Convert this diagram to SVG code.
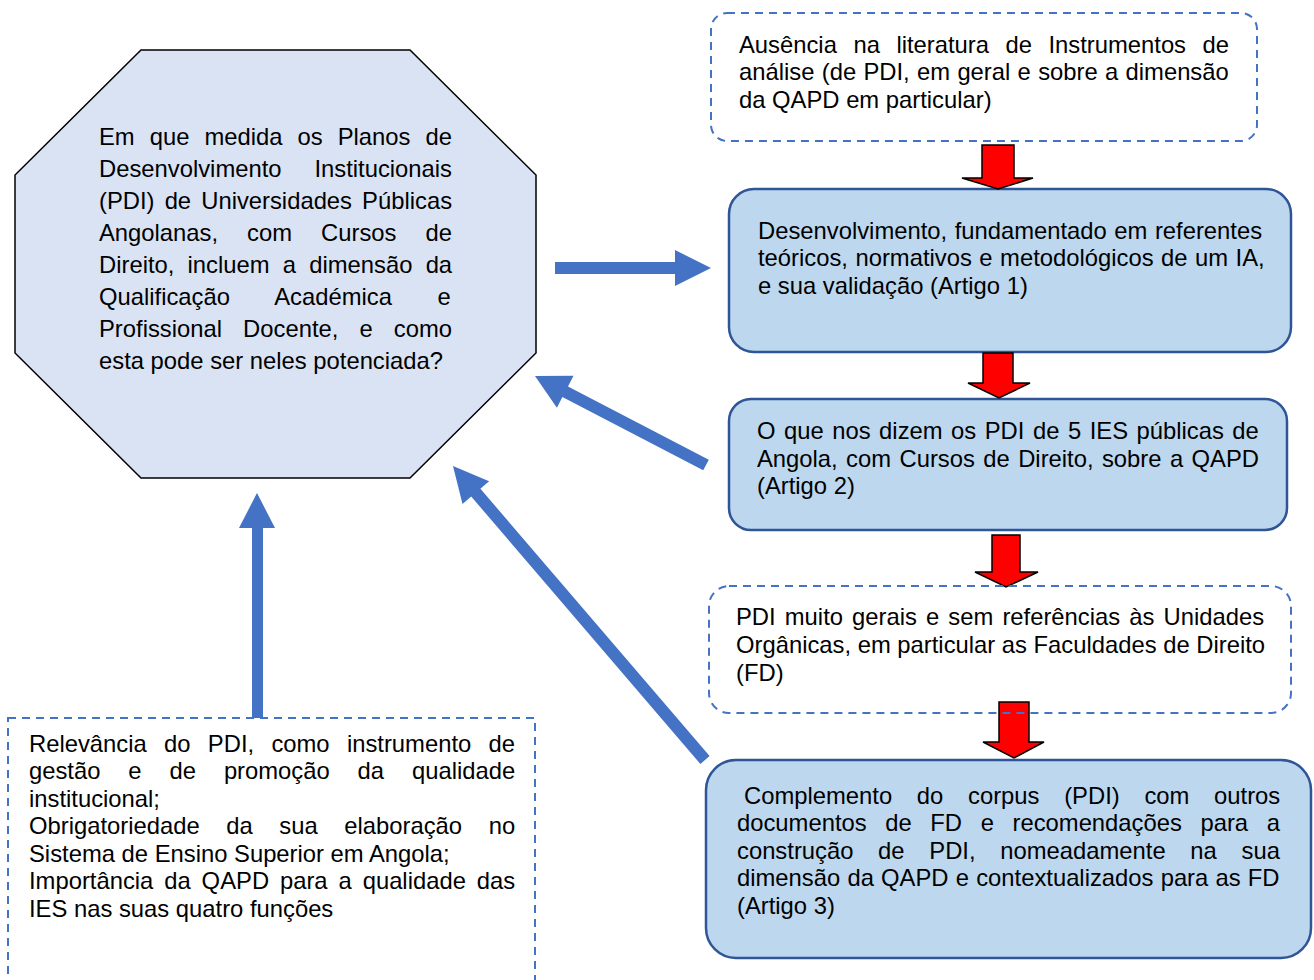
<svg xmlns="http://www.w3.org/2000/svg" width="1314" height="980" viewBox="0 0 1314 980">
<style>
text{font-family:"Liberation Sans",Arial,sans-serif;font-size:23.8px;fill:#000}
.solid{fill:#bdd7ee;stroke:#2f5597;stroke-width:2.5}
.dash{fill:none;stroke:#4472c4;stroke-width:2;stroke-dasharray:8 6}
.blue{fill:#4472c4}
.red{fill:#ff0000;stroke:#000;stroke-width:1.5;stroke-linejoin:miter}
</style>
<rect width="1314" height="980" fill="#fff"/>
<g id="question">
<polygon points="141,50 410,50 536,175 536,353 410,478 141,478 15,353 15,175" fill="#dae3f3" stroke="#000" stroke-width="1.5"/>
<text x="99" y="145" style="word-spacing:8.4px">Em que medida os Planos de</text>
<text x="99" y="177" style="word-spacing:26.3px">Desenvolvimento Institucionais</text>
<text x="99" y="209" style="word-spacing:3.5px">(PDI) de Universidades Públicas</text>
<text x="99" y="241" style="word-spacing:22.4px">Angolanas, com Cursos de</text>
<text x="99" y="273" style="word-spacing:6.6px">Direito, incluem a dimensão da</text>
<text x="99" y="305" style="word-spacing:39px">Qualificação Académica e</text>
<text x="99" y="337" style="word-spacing:14.5px">Profissional Docente, e como</text>
<text x="99" y="369">esta pode ser neles potenciada?</text>
</g>
<g id="context">
<rect x="8" y="718" width="527" height="280" class="dash"/>
<text x="29" y="752" style="word-spacing:10.7px">Relevância do PDI, como instrumento de</text>
<text x="29" y="779" style="word-spacing:21.3px">gestão e de promoção da qualidade</text>
<text x="29" y="807">institucional;</text>
<text x="29" y="834" style="word-spacing:20px">Obrigatoriedade da sua elaboração no</text>
<text x="29" y="862">Sistema de Ensino Superior em Angola;</text>
<text x="29" y="889" style="word-spacing:4.3px">Importância da QAPD para a qualidade das</text>
<text x="29" y="917">IES nas suas quatro funções</text>
</g>
<g id="gap">
<rect x="711" y="13" width="546" height="128" rx="16" class="dash"/>
<text x="739" y="53" style="word-spacing:9.9px">Ausência na literatura de Instrumentos de</text>
<text x="739" y="80" style="word-spacing:0.7px">análise (de PDI, em geral e sobre a dimensão</text>
<text x="739" y="108">da QAPD em particular)</text>
</g>
<g id="artigo1">
<rect x="729" y="189" width="562" height="163" rx="25" class="solid"/>
<text x="758" y="239" style="word-spacing:0.9px">Desenvolvimento, fundamentado em referentes</text>
<text x="758" y="266" style="word-spacing:0.9px">teóricos, normativos e metodológicos de um IA,</text>
<text x="758" y="294">e sua validação (Artigo 1)</text>
</g>
<g id="artigo2">
<rect x="729" y="399" width="558" height="131" rx="22" class="solid"/>
<text x="757" y="439" style="word-spacing:1.9px">O que nos dizem os PDI de 5 IES públicas de</text>
<text x="757" y="467" style="word-spacing:1.8px">Angola, com Cursos de Direito, sobre a QAPD</text>
<text x="757" y="494">(Artigo 2)</text>
</g>
<g id="artigo3">
<rect x="706" y="760" width="605" height="198" rx="30" class="solid"/>
<text x="744" y="804" style="word-spacing:18.1px">Complemento do corpus (PDI) com outros</text>
<text x="737" y="831" style="word-spacing:12px">documentos de FD e recomendações para a</text>
<text x="737" y="859" style="word-spacing:18.1px">construção de PDI, nomeadamente na sua</text>
<text x="737" y="886" style="word-spacing:0.6px">dimensão da QAPD e contextualizados para as FD</text>
<text x="737" y="914">(Artigo 3)</text>
</g>
<g id="connectors">
<polygon class="red" points="982,145 1014,145 1014,178 1033,178 998,189 962,178 982,178"/>
<polygon class="red" points="983,353 1013,353 1013,383 1030,383 999,398 968,383 983,383"/>
<polygon class="red" points="992,535 1020,535 1020,572 1038,572 1006,587 975,572 992,572"/>
<polygon class="red" points="999,702 1029,702 1029,742 1044,742 1014,758 983,742 999,742"/>
<polygon class="blue" points="555,262 675,262 675,250 711,268 675,286 675,274 555,274"/>
<polygon class="blue" points="708.8,459.7 568,386.4 573.5,375.7 535,376 556.9,407.7 562.4,397 703.2,470.3"/>
<polygon class="blue" points="709.6,756.1 480.4,488.7 489.1,481.2 453,466 462.5,504 471.2,496.5 700.4,763.9"/>
<polygon class="blue" points="252,718 252,528 239,528 257,493 275,528 263,528 263,718"/>
</g>
<g id="achado">
<rect x="709" y="586" width="582" height="127" rx="20" class="dash"/>
<text x="736" y="625" style="word-spacing:2.5px">PDI muito gerais e sem referências às Unidades</text>
<text x="736" y="653">Orgânicas, em particular as Faculdades de Direito</text>
<text x="736" y="681">(FD)</text>
</g>
</svg>
